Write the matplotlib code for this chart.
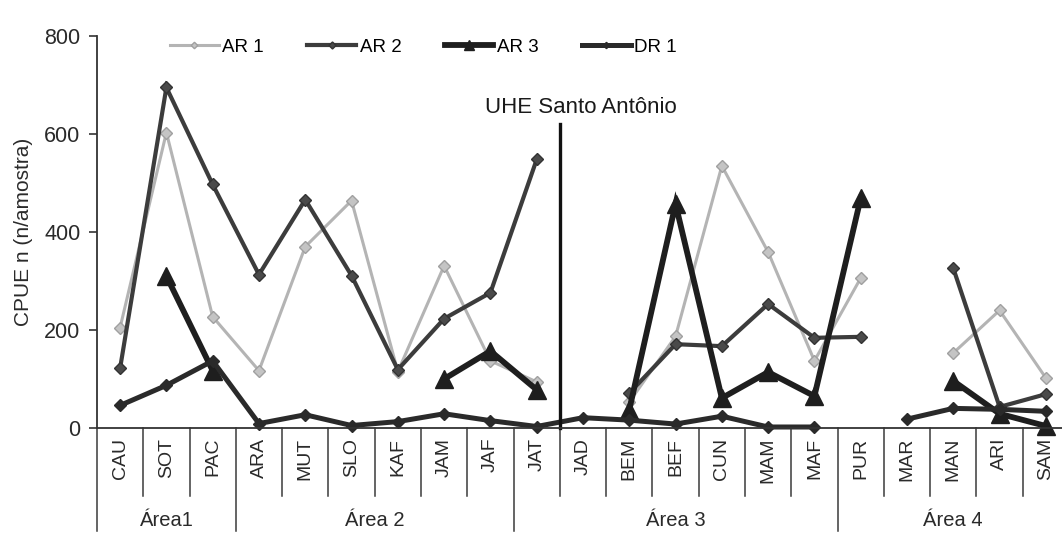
import numpy as np
import matplotlib.pyplot as plt

plt.rcParams['font.family'] = ['Liberation Sans', 'DejaVu Sans']

# Sampling sites (in river order) and the areas they belong to
sites = ['CAU', 'SOT', 'PAC', 'ARA', 'MUT', 'SLO', 'KAF', 'JAM', 'JAF', 'JAT',
         'JAD', 'BEM', 'BEF', 'CUN', 'MAM', 'MAF', 'PUR', 'MAR', 'MAN', 'ARI', 'SAM']
areas = ['Área1', 'Área 2', 'Área 3', 'Área 4']
area_sizes = [3, 6, 7, 5]

nan = np.nan
# CPUE (n/amostra) per site for each sampling campaign
ar1 = [205, 603, 227, 117, 370, 464, 115, 331, 137, 94, nan,
       53, 187, 535, 359, 137, 306, nan, 153, 240, 102]
ar2 = [122, 695, 497, 313, 466, 311, 119, 223, 276, 548, nan,
       71, 171, 167, 253, 184, 186, nan, 326, 43, 69]
ar3 = [nan, 310, 117, nan, nan, nan, nan, 100, 157, 78, nan,
       37, 457, 61, 114, 65, 469, nan, 96, 29, 4]
dr1 = [46, 87, 137, 9, 27, 5, 13, 29, 15, 3, 21,
       16, 8, 24, 2, 2, nan, 18, 40, 38, 34]

yticks = [0, 200, 400, 600, 800]
dam_label = 'UHE Santo Antônio'
dam_position = 9.5      # between JAT and JAD
dam_line_top = 620

fig = plt.figure(figsize=(10.62, 5.47), dpi=100)
ax = fig.add_axes([0.0913, 0.2176, 0.9153, 0.7166])

x = np.arange(len(sites))

series = [
    ('AR 1', ar1, dict(color='#b4b4b4', lw=2.2, marker='D', ms=6.0,
                       mfc='#c4c4c4', mec='#a0a0a0', mew=1.0)),
    ('AR 2', ar2, dict(color='#3c3c3c', lw=3.0, marker='D', ms=6.5,
                       mfc='#4a4a4a', mec='#333333', mew=1.0)),
    ('AR 3', ar3, dict(color='#1e1e1e', lw=4.2, marker='^', ms=12.5,
                       mfc='#1e1e1e', mec='#1e1e1e')),
    ('DR 1', dr1, dict(color='#2a2a2a', lw=3.6, marker='D', ms=5.8,
                       mfc='#2a2a2a', mec='#2a2a2a')),
]
for label, vals, style in series:
    ax.plot(x, np.array(vals, dtype=float), label=label, clip_on=False,
            solid_joinstyle='miter', **style)

ax.set_xlim(-0.5, len(sites) - 0.5)
ax.set_ylim(0, 800)
ax.set_yticks(yticks)
ax.tick_params(axis='y', labelsize=15.5, length=6, width=1.2,
               color='#333333', labelcolor='#2a2a2a', pad=6)
ax.set_xticks(x)
ax.set_xticklabels(sites, rotation=90, fontsize=14, color='#2a2a2a')
ax.tick_params(axis='x', length=0, pad=7)

for side in ('top', 'right'):
    ax.spines[side].set_visible(False)
ax.spines['left'].set_color('#333333')
ax.spines['left'].set_linewidth(1.3)
ax.spines['bottom'].set_color('#333333')
ax.spines['bottom'].set_linewidth(1.3)

# Category separators below the axis, longer ones between areas
xt = ax.get_xaxis_transform()
bounds = np.cumsum([0] + area_sizes) - 0.5
for b in np.arange(-0.5, len(sites), 1.0):
    depth = -0.263 if np.isclose(bounds, b).any() else -0.173
    ax.plot([b, b], [0, depth], transform=xt, color='#3a3a3a',
            lw=1.1, clip_on=False)

# Area names centred under their groups
for name, lo, hi in zip(areas, bounds[:-1], bounds[1:]):
    ax.text((lo + hi) / 2, -0.235, name, transform=xt, ha='center',
            va='center', fontsize=14.5, color='#2a2a2a')

# Dam location
ax.plot([dam_position, dam_position], [0, dam_line_top], color='#111111',
        lw=2.4, clip_on=False)
ax.text(dam_position + 0.45, 655, dam_label, ha='center', va='center',
        fontsize=16, color='#1a1a1a')

ax.set_ylabel('CPUE n (n/amostra)', fontsize=15, color='#2a2a2a', labelpad=8)

fig.legend(loc='center left', bbox_to_anchor=(0.160, 0.914), ncol=4,
           frameon=False, fontsize=13.5, handlelength=2.6,
           handletextpad=0.2, columnspacing=2.3, borderpad=0,
           borderaxespad=0, markerscale=0.55)

fig.savefig('out.png', dpi=100)
